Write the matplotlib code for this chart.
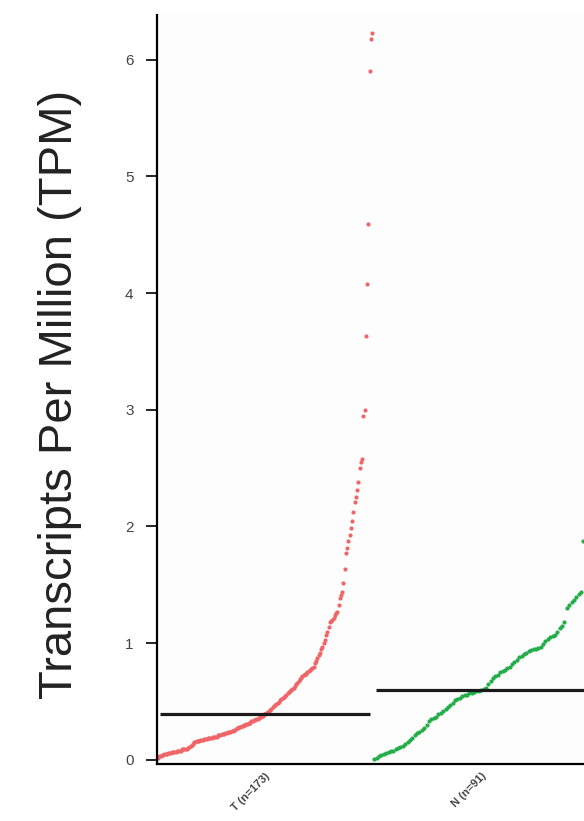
import matplotlib.pyplot as plt
import numpy as np

plt.rcParams['font.family'] = ['Liberation Sans', 'DejaVu Sans']

groups = ["T (n=173)", "N (n=91)"]
colors = ["#ef6669", "#22ad48"]

# sorted TPM values
tpm_t = [0.02, 0.03, 0.03, 0.04, 0.04, 0.05, 0.05, 0.05, 0.06, 0.06, 0.06, 0.07, 0.07, 0.07, 0.07,
         0.08, 0.08, 0.08, 0.08, 0.09, 0.09, 0.09, 0.09, 0.09, 0.10,
         0.11, 0.12, 0.13, 0.14, 0.15, 0.15, 0.16, 0.16, 0.16, 0.17, 0.17, 0.17, 0.18, 0.18,
         0.18, 0.19, 0.19, 0.19, 0.19, 0.20, 0.20, 0.20, 0.20, 0.21, 0.21, 0.21, 0.22,
         0.22, 0.22, 0.23, 0.23, 0.24, 0.24, 0.24, 0.25, 0.25, 0.26, 0.26, 0.27, 0.27,
         0.28, 0.28, 0.29, 0.29, 0.30, 0.30, 0.31, 0.31, 0.32, 0.32, 0.33, 0.33, 0.34, 0.34,
         0.35, 0.35, 0.36, 0.37, 0.37, 0.38, 0.39, 0.39,
         0.40, 0.41, 0.42, 0.43, 0.44, 0.45, 0.46, 0.47, 0.48, 0.49,
         0.50, 0.51, 0.52, 0.53, 0.54, 0.55, 0.56, 0.57, 0.58, 0.59, 0.60, 0.61, 0.62,
         0.63, 0.65, 0.66, 0.68, 0.69, 0.70, 0.72, 0.73,
         0.74, 0.74, 0.75, 0.76, 0.77, 0.78, 0.79, 0.80,
         0.83, 0.85, 0.87, 0.90, 0.92,
         0.95, 0.97, 1.00, 1.03,
         1.07, 1.10, 1.14, 1.18,
         1.19, 1.20, 1.22, 1.24, 1.26, 1.27,
         1.33, 1.39, 1.41, 1.44,
         1.52, 1.64, 1.77,
         1.82, 1.88, 1.93,
         1.99, 2.05, 2.12,
         2.21, 2.25, 2.31,
         2.38, 2.50, 2.55,
         2.58, 2.95, 3.00, 3.63, 4.08, 4.59, 5.90, 6.18, 6.23]

tpm_n = [0.01, 0.02, 0.03, 0.04, 0.05, 0.06,
         0.07, 0.08, 0.08, 0.09, 0.10, 0.11,
         0.12, 0.14, 0.15,
         0.17, 0.19, 0.21, 0.23,
         0.24, 0.26, 0.27,
         0.30, 0.33, 0.35,
         0.36, 0.37,
         0.39, 0.40, 0.42, 0.44, 0.45,
         0.47, 0.49, 0.51,
         0.52, 0.53, 0.55, 0.56,
         0.56, 0.57, 0.57, 0.58,
         0.59, 0.59, 0.60, 0.61, 0.62,
         0.65, 0.68, 0.70,
         0.72, 0.73, 0.75,
         0.76, 0.77, 0.79, 0.80,
         0.82, 0.84, 0.86,
         0.88, 0.89, 0.91, 0.92,
         0.93, 0.94, 0.95, 0.95, 0.96, 0.97,
         0.99, 1.02, 1.04,
         1.05, 1.06, 1.07,
         1.10, 1.13, 1.15, 1.18,
         1.30, 1.33, 1.35, 1.37,
         1.40, 1.42, 1.44,
         1.88, 2.30, 3.10]

data = [tpm_t, tpm_n]

fig = plt.figure(figsize=(5.84, 8.21), dpi=100)
# axes runs past the right edge, like the cropped original
ax = fig.add_axes([0.269, 0.0694, 0.74, 0.912])
ax.set_facecolor("#fdfdfd")

for k, vals in enumerate(data):
    vals = np.sort(np.array(vals))
    xs = np.linspace(k + 0.005, k + 0.995, len(vals))
    ax.scatter(xs, vals, s=9, marker="o", color=colors[k], linewidths=0, zorder=2)
    med = np.median(vals)
    ax.hlines(med, k + 0.015, k + 0.985, color="#1a1a1a", lw=2.3, zorder=3)

ax.set_xlim(0, 2)
ax.set_ylim(-0.035, 6.38)
ax.set_yticks(range(0, 7))
ax.set_xticks([0.5, 1.5])
ax.set_xticklabels(groups, rotation=45, ha="right", va="top", rotation_mode="anchor",
                   fontsize=8, fontweight="bold", color="#444444")
ax.tick_params(axis="x", length=0, pad=5)
ax.tick_params(axis="y", length=8, width=1.2, pad=9, labelsize=11, labelcolor="#444444")

for s in ["top", "right"]:
    ax.spines[s].set_visible(False)
ax.spines["left"].set_linewidth(1.6)
ax.spines["bottom"].set_linewidth(1.6)

fig.text(0.103, 0.52, "Transcripts Per Million (TPM)", rotation=90, ha="center", va="center",
         fontsize=34, color="#222222")

fig.savefig("out.png", dpi=100)
